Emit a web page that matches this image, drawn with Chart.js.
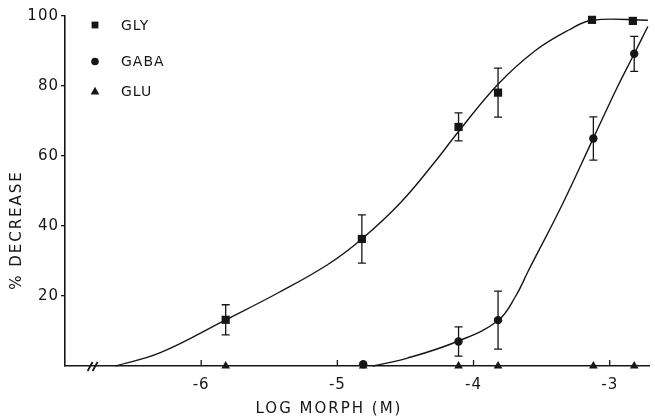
<!DOCTYPE html>
<html><head><meta charset="utf-8">
<script src="https://cdn.jsdelivr.net/npm/chart.js@4.4.1/dist/chart.umd.min.js"></script>
<style>html,body{margin:0;padding:0;background:#fff}#wrap{width:655px;height:420px;position:relative}</style>
</head><body><div id="wrap"><canvas id="c" width="655" height="420"></canvas></div>
<script>
// ---- data ----
const seriesNames = ['GLY', 'GABA', 'GLU'];
const glyX   = [-5.82, -4.82, -4.11, -3.82, -3.13, -2.83];
const glyY   = [13.2, 36.3, 68.3, 78.1, 98.9, 98.6];
const glyErr = [4.3, 6.9, 4.0, 7.0, 0, 0];
const gabaX   = [-4.81, -4.11, -3.82, -3.12, -2.82];
const gabaY   = [0.5, 7.0, 13.1, 65.0, 89.2];
const gabaErr = [0, 4.2, 8.3, 6.2, 5.0];
const gluX = [-5.82, -4.81, -4.11, -3.82, -3.12, -2.82];
const gluY = [0, 0, 0, 0, 0, 0];
// fitted curves
const glyCurveX = [-6.63, -6.3, -5.82, -5.43, -5.07, -4.82, -4.54, -4.28, -4.11, -3.82, -3.55, -3.3, -3.13, -2.72];
const glyCurveY = [0, 3.8, 13.2, 21.0, 29.0, 36.3, 46.5, 58.5, 67.0, 80.5, 90.0, 96.0, 98.8, 98.8];
const gabaCurveX = [-4.74, -4.49, -4.12, -3.82, -3.69, -3.60, -3.35, -3.12, -2.94, -2.82, -2.72];
const gabaCurveY = [0, 2.2, 7.0, 13.0, 20.0, 27.0, 46.0, 65.1, 80.0, 89.2, 97.0];
const xTickValues = [-6, -5, -4, -3];
const yTickValues = [20, 40, 60, 80, 100];
const xRange = [-7, -2.71];
const yRange = [0, 100];
const axisBreakAt = -6.79;
const xTitle = 'LOG MORPH (M)';
const yTitle = '% DECREASE';

// ---- chart ----
const FAM = '"DejaVu Sans", "Liberation Sans", sans-serif';
const INK = '#161616';
const pts = (xs, ys) => xs.map((v, i) => ({x: v, y: ys[i]}));

function marker(ctx, style, cx, cy, r) {
  ctx.beginPath();
  if (style === 'rect') { ctx.rect(cx - r, cy - r, 2 * r, 2 * r); }
  else if (style === 'circle') { ctx.arc(cx, cy, r, 0, Math.PI * 2); }
  else { ctx.moveTo(cx, cy - r * 1.1); ctx.lineTo(cx + r, cy + r * 0.7); ctx.lineTo(cx - r, cy + r * 0.7); ctx.closePath(); }
  ctx.fill();
}

const deco = {
  id: 'deco',
  beforeDraw(chart) { chart.ctx.letterSpacing = '1px'; },
  afterDatasetsDraw(chart) {
    const {ctx, scales: {x, y}, chartArea} = chart;
    ctx.save();
    ctx.strokeStyle = INK; ctx.fillStyle = INK; ctx.lineWidth = 1.3;
    // error bars
    const drawErr = (xs, ys, es) => xs.forEach((v, i) => {
      if (!es[i]) return;
      const px = x.getPixelForValue(v);
      const t = y.getPixelForValue(ys[i] + es[i]);
      const b = y.getPixelForValue(ys[i] - es[i]);
      ctx.beginPath();
      ctx.moveTo(px, t); ctx.lineTo(px, b);
      ctx.moveTo(px - 4, t); ctx.lineTo(px + 4, t);
      ctx.moveTo(px - 4, b); ctx.lineTo(px + 4, b);
      ctx.stroke();
    });
    drawErr(glyX, glyY, glyErr);
    drawErr(gabaX, gabaY, gabaErr);
    // inward x ticks
    ctx.beginPath();
    xTickValues.forEach(v => {
      const px = x.getPixelForValue(v);
      ctx.moveTo(px, chartArea.bottom); ctx.lineTo(px, chartArea.bottom - 6);
    });
    ctx.stroke();
    // axis break marks
    const bx = x.getPixelForValue(axisBreakAt), by = chartArea.bottom;
    ctx.lineWidth = 1.8;
    ctx.beginPath();
    ctx.moveTo(bx - 6, by + 5); ctx.lineTo(bx - 1, by - 4);
    ctx.moveTo(bx - 1, by + 5); ctx.lineTo(bx + 4, by - 4);
    ctx.stroke();
    // axis titles
    ctx.letterSpacing = '2px';
    ctx.font = '15px ' + FAM;
    ctx.textAlign = 'center'; ctx.textBaseline = 'middle';
    ctx.fillText(xTitle, 329, 409);
    ctx.save();
    ctx.translate(17, 230); ctx.rotate(-Math.PI / 2);
    ctx.fillText(yTitle, 0, 0);
    ctx.restore();
    // legend
    ctx.letterSpacing = '1px';
    ctx.font = '14px ' + FAM;
    ctx.textAlign = 'left';
    const legStyles = ['rect', 'circle', 'triangle'];
    const legY = [25, 61.5, 91.5];
    const legR = [3.4, 3.8, 4.3];
    seriesNames.forEach((n, i) => {
      marker(ctx, legStyles[i], 95, legY[i], legR[i]);
      ctx.fillText(n, 121, legY[i] + 1);
    });
    ctx.restore();
  }
};

const tickFont = {family: FAM, size: 15};
new Chart(document.getElementById('c'), {
  type: 'scatter',
  data: {
    datasets: [
      {label: 'GLY fit', data: pts(glyCurveX, glyCurveY), showLine: true, pointRadius: 0,
       borderColor: INK, borderWidth: 1.4, tension: 0.4, clip: false},
      {label: 'GABA fit', data: pts(gabaCurveX, gabaCurveY), showLine: true, pointRadius: 0,
       borderColor: INK, borderWidth: 1.4, tension: 0.4, clip: false},
      {label: seriesNames[0], data: pts(glyX, glyY), pointStyle: 'rect', pointRadius: 5.8,
       backgroundColor: INK, borderColor: INK, borderWidth: 0, clip: false},
      {label: seriesNames[1], data: pts(gabaX, gabaY), pointStyle: 'circle', pointRadius: 4.2,
       backgroundColor: INK, borderColor: INK, borderWidth: 0, clip: false},
      {label: seriesNames[2], data: pts(gluX, gluY), pointStyle: 'triangle', pointRadius: 5,
       backgroundColor: INK, borderColor: INK, borderWidth: 0, clip: false}
    ]
  },
  options: {
    responsive: false, animation: false, devicePixelRatio: 1, events: [],
    layout: {padding: {top: 16, right: 0, left: 0, bottom: 0}},
    plugins: {legend: {display: false}, tooltip: {enabled: false}, title: {display: false}},
    scales: {
      x: {
        type: 'linear', min: xRange[0], max: xRange[1],
        afterBuildTicks: s => { s.ticks = xTickValues.map(v => ({value: v})); },
        afterFit: s => { s.height = 54; },
        grid: {display: false, drawTicks: false},
        border: {display: true, color: INK, width: 1.6},
        ticks: {font: tickFont, color: INK, padding: 10, callback: v => String(v)},
        title: {display: false}
      },
      y: {
        type: 'linear', min: yRange[0], max: yRange[1],
        afterBuildTicks: s => { s.ticks = yTickValues.map(v => ({value: v})); },
        afterFit: s => { s.width = 65; },
        grid: {drawOnChartArea: false, drawTicks: true, tickLength: 4, color: INK, lineWidth: 1.3},
        border: {display: true, color: INK, width: 1.6},
        ticks: {font: tickFont, color: INK, padding: 2},
        title: {display: false}
      }
    }
  },
  plugins: [deco]
});
</script>
</body></html>
